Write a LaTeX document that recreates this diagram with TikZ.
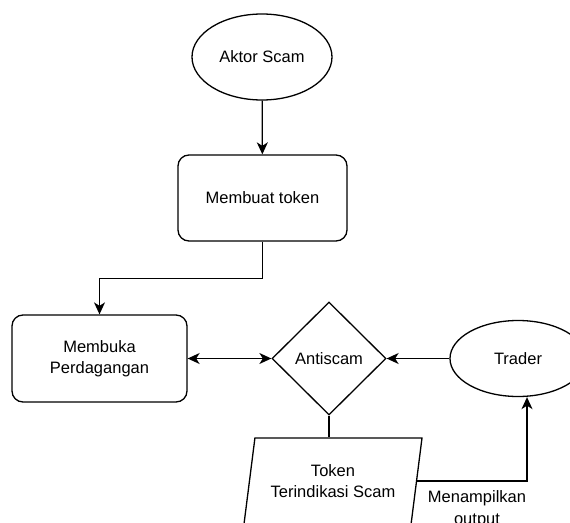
\documentclass[tikz,border=0pt]{standalone}
\usepackage{fontspec}
\setmainfont{Liberation Sans}
\usetikzlibrary{shapes.geometric,arrows.meta,calc}
\begin{document}
\begin{tikzpicture}[x=1pt,y=-1pt,
  every node/.style={font=\fontsize{16.5}{21.5}\selectfont, align=center, inner sep=0pt},
  shp/.style={draw, line width=1.3pt, fill=white},
  ellnode/.style={shp, ellipse},
  boxnode/.style={shp, rectangle, rounded corners=11pt},
  link/.style={line width=1.3pt},
  arr/.style={link, -{Stealth[length=12pt,width=11pt,inset=3.5pt]}},
  darr/.style={link, {Stealth[length=12pt,width=11pt,inset=3.5pt]}-{Stealth[length=12pt,width=11pt,inset=3.5pt]}}
]
\useasboundingbox (0,0) rectangle (570,522);
\clip (0,0) rectangle (570,522);

\node[ellnode, minimum width=140pt, minimum height=86pt] (aktor) at (262,57) {Aktor Scam};
\node[boxnode, minimum width=169pt, minimum height=86pt] (token) at (262.5,198) {Membuat token};
\node[boxnode, minimum width=175pt, minimum height=87pt] (buka) at (99.5,358.5) {Membuka\\Perdagangan};
\node[shp, diamond, minimum width=114pt, minimum height=113pt] (anti) at (329,358.5) {Antiscam};
\node[ellnode, minimum width=136pt, minimum height=76pt] (trader) at (518,358.5) {Trader};
\node[shp, trapezium, trapezium left angle=72, trapezium right angle=108, trapezium stretches body,
      minimum width=178pt, minimum height=86pt] (para) at (333,481) {Token\\Terindikasi Scam};
\node (lbl) at (477,509) {Menampilkan\\output};

\coordinate (pr) at ($(para.top right corner)!0.5!(para.bottom right corner)$);

\draw[arr] (aktor) -- (token);
\draw[arr] (token.south) -- ++(0,37) -| (buka.north);
\draw[darr] (buka.east) -- (anti.west);
\draw[arr] (trader.west) -- (anti.east);
\draw[link] (anti.south) -- (anti.south |- para.north);
\draw[arr] (pr) -| ([xshift=9pt]trader.south);
\end{tikzpicture}
\end{document}
